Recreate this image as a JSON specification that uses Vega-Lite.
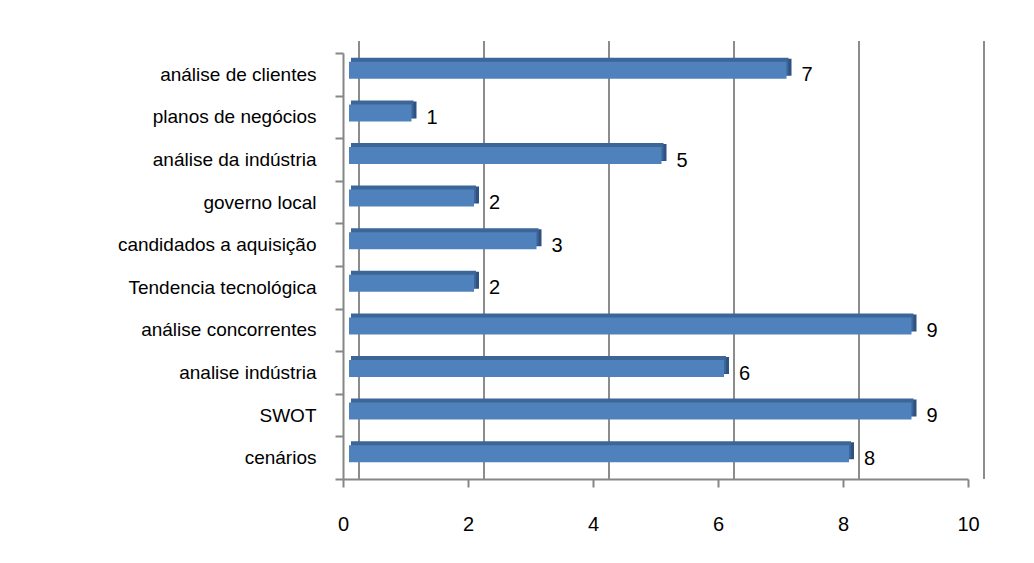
{
  "$schema": "https://vega.github.io/schema/vega-lite/v6.json",
  "width": 625,
  "height": 426,
  "autosize": {"type": "none"},
  "padding": {"left": 343, "top": 53, "right": 66, "bottom": 84},
  "background": "white",
  "config": {
    "view": {"stroke": null},
    "font": "Liberation Sans"
  },
  "data": {
    "values": [
      {"cat": "análise de clientes", "v": 7},
      {"cat": "planos de negócios", "v": 1},
      {"cat": "análise da indústria", "v": 5},
      {"cat": "governo local", "v": 2},
      {"cat": "candidados a aquisição", "v": 3},
      {"cat": "Tendencia tecnológica", "v": 2},
      {"cat": "análise concorrentes", "v": 9},
      {"cat": "analise indústria", "v": 6},
      {"cat": "SWOT", "v": 9},
      {"cat": "cenários", "v": 8}
    ]
  },
  "encoding": {
    "y": {
      "field": "cat", "type": "nominal", "sort": null,
      "scale": {"paddingInner": 0, "paddingOuter": 0},
      "axis": {
        "title": null, "tickBand": "extent", "grid": false,
        "domainColor": "#868686", "domainWidth": 2,
        "tickColor": "#868686", "tickWidth": 2, "tickSize": 8,
        "labelFont": "Liberation Sans", "labelFontSize": 19, "labelColor": "#000000",
        "labelPadding": 19, "labelLimit": 0
      }
    }
  },
  "layer": [
    {
      "data": {"values": [{"t": 0}, {"t": 2}, {"t": 4}, {"t": 6}, {"t": 8}, {"t": 10}]},
      "mark": {"type": "rule", "color": "#8c8c8c", "strokeWidth": 2, "xOffset": 16, "yOffset": -12},
      "encoding": {
        "y": null,
        "x": {"field": "t", "type": "quantitative", "scale": {"domain": [0, 10]}}
      }
    },
    {
      "mark": {"type": "bar", "color": "#2f5283", "size": 17, "xOffset": 11, "yOffset": -7},
      "encoding": {
        "x": {"field": "v", "type": "quantitative"}
      }
    },
    {
      "mark": {"type": "bar", "color": "#3d6698", "size": 17, "xOffset": 8, "yOffset": -8},
      "encoding": {
        "x": {"field": "v", "type": "quantitative"}
      }
    },
    {
      "mark": {"type": "bar", "color": "#4f81bd", "size": 17, "xOffset": 6, "yOffset": -4},
      "encoding": {
        "x": {
          "field": "v", "type": "quantitative",
          "scale": {"domain": [0, 10]},
          "axis": {
            "title": null, "values": [0, 2, 4, 6, 8, 10], "format": "d", "grid": false,
            "domainColor": "#868686", "domainWidth": 2,
            "tickColor": "#868686", "tickWidth": 2, "tickSize": 8,
            "labelFont": "Liberation Sans", "labelFontSize": 20, "labelColor": "#000000",
            "labelPadding": 27, "labelFlush": false
          }
        }
      }
    },
    {
      "mark": {"type": "text", "align": "left", "baseline": "middle", "dx": 21, "dy": 1, "fontSize": 20, "color": "#000000", "font": "Liberation Sans"},
      "encoding": {
        "x": {"field": "v", "type": "quantitative"},
        "text": {"field": "v", "type": "quantitative"}
      }
    }
  ]
}
